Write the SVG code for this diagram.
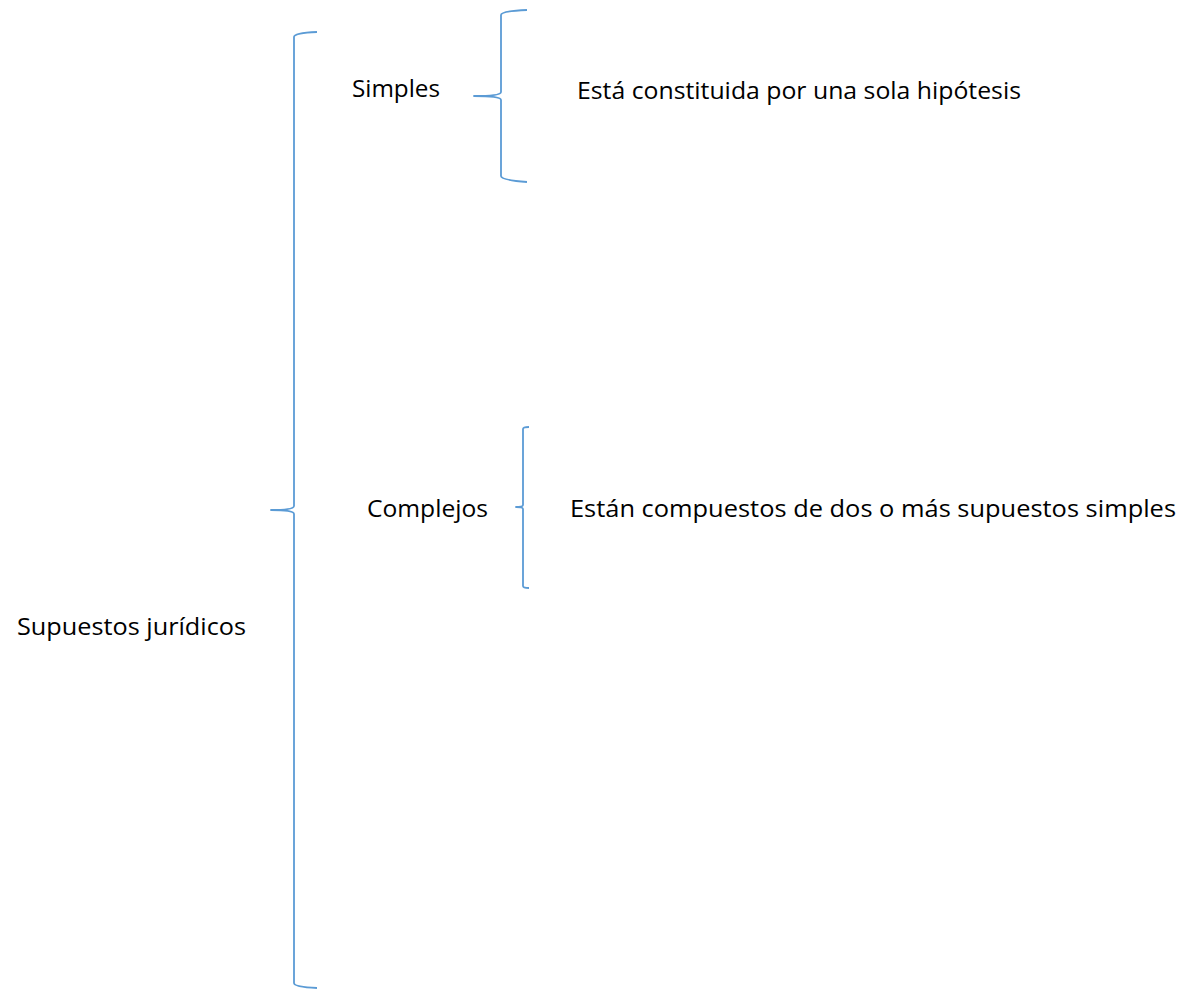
<svg xmlns="http://www.w3.org/2000/svg" width="1182" height="990" viewBox="0 0 1182 990">
<style>
.br{fill:none;stroke:#5B9BD5;stroke-width:1.8;stroke-linejoin:round}
.t{font-family:"Open Sans","Noto Sans","Liberation Sans",sans-serif;font-size:24px;fill:#000}
</style>
<rect width="1182" height="990" fill="#fff"/>
<g id="connectors">
<path class="br" d="M317,32 Q294,33 294,37 L294,506 Q294,510 271,510 Q294,510 294,514 L294,983 Q294,987 317,988"/>
<path class="br" d="M527,10 Q501,11 501,15 L501,92 Q501,96 474,96 Q501,96 501,100 L501,176 Q501,180 527,182"/>
<path class="br" d="M529,427 Q523,427 523,429 L523,505 Q523,507 516,507 Q523,507 523,509 L523,586 Q523,588 529,588"/>
</g>
<g id="root"><text class="t" x="17" y="635" textLength="229" lengthAdjust="spacingAndGlyphs">Supuestos jurídicos</text></g>
<g id="simples"><text class="t" x="352" y="97" textLength="88" lengthAdjust="spacingAndGlyphs">Simples</text></g>
<g id="simples-desc"><text class="t" x="577" y="99" textLength="444" lengthAdjust="spacingAndGlyphs">Está constituida por una sola hipótesis</text></g>
<g id="complejos"><text class="t" x="367" y="517" textLength="121" lengthAdjust="spacingAndGlyphs">Complejos</text></g>
<g id="complejos-desc"><text class="t" x="570" y="517" textLength="606" lengthAdjust="spacingAndGlyphs">Están compuestos de dos o más supuestos simples</text></g>
</svg>
